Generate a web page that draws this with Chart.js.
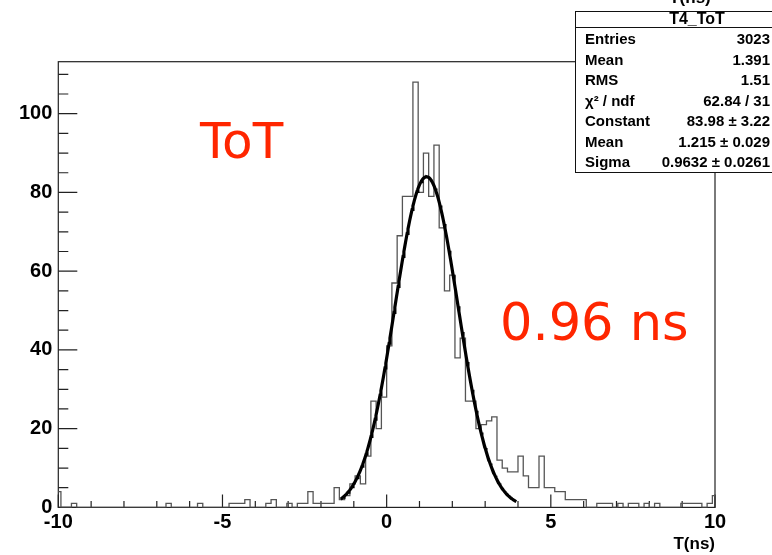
<!DOCTYPE html>
<html>
<head>
<meta charset="utf-8">
<script src="https://cdn.jsdelivr.net/npm/chart.js@4.4.0/dist/chart.umd.min.js"></script>
<style>
html,body{margin:0;padding:0;background:#fff;overflow:hidden}
#wrap{position:relative;width:772px;height:555px}
canvas{display:block}
</style>
</head>
<body>
<div id="wrap"><canvas id="c" width="772" height="555"></canvas></div>
<script>
// ---- data ----
const histName = "T4_ToT";
const binStart = -10.08;          // left edge of first (partly visible) bin
const binWidth = 0.16;            // ns
const counts = [
  4,0,0,1,0,0,0,0,0,0,  0,0,0,0,0,0,0,0,0,0,
  0,1,0,0,0,0,0,1,0,0,  0,0,0,1,1,1,2,0,0,0,
  1,2,0,0,1,0,1,1,4,1,  1,1,1,5,2,3,6,8,6,13,
  27,20,28,41,57,69,79,79,108,80,  90,79,92,71,55,59,38,43,27,27,
  20,21,22,23,12,10,9,9,13,8,  5,5,13,5,5,4,4,2,2,2,
  2,0,0,1,1,1,0,1,0,1,  1,0,1,0,1,0,0,0,0,1,  1,1,1,0,1,3
];
const fitConstant = 83.98;
const fitMean = 1.215;
const fitSigma = 0.9632;
const fitRange = [-1.4, 3.95];
const xTickLabels = [-10, -5, 0, 5, 10];
const yTickLabels = [0, 20, 40, 60, 80, 100];
const xTitle = "T(ns)";
const statsLabels = ["Entries", "Mean", "RMS", "\u03c7\u00b2 / ndf", "Constant", "Mean", "Sigma"];
const statsValues = ["3023", "1.391", "1.51", "62.84 / 31", "83.98 \u00b1 3.22", "1.215 \u00b1 0.029", "0.9632 \u00b1 0.0261"];
const noteTot = "ToT";
const noteSigma = "0.96 ns";

// ---- build datasets ----
const histPts = counts.map((c, i) => ({x: binStart + i * binWidth, y: c}));
histPts.push({x: binStart + counts.length * binWidth, y: counts[counts.length - 1]});

function gauss(t) {
  const z = (t - fitMean) / fitSigma;
  return fitConstant * Math.exp(-0.5 * z * z);
}
const fitPts = [];
for (let t = fitRange[0]; t <= fitRange[1] + 1e-9; t += 0.025) fitPts.push({x: t, y: gauss(t)});

const FONT = "'Liberation Sans', Arial, Helvetica, sans-serif";

const overlay = {
  id: 'overlay',
  beforeDatasetsDraw(chart) {
    const {ctx, chartArea: a, scales: {x, y}} = chart;
    ctx.save();
    ctx.strokeStyle = '#222';
    ctx.lineWidth = 1.2;
    ctx.strokeRect(a.left, a.top, a.right - a.left, a.bottom - a.top);
    ctx.beginPath();
    for (let v = -10; v <= 10; v++) {
      const px = x.getPixelForValue(v);
      const len = (v % 5 === 0) ? 13 : 6.5;
      ctx.moveTo(px, a.bottom); ctx.lineTo(px, a.bottom - len);
    }
    for (let v = 0; v <= 110; v += 5) {
      const py = y.getPixelForValue(v);
      const len = (v % 20 === 0) ? 19 : 10;
      ctx.moveTo(a.left, py); ctx.lineTo(a.left + len, py);
    }
    ctx.stroke();
    ctx.restore();
  },
  afterDraw(chart) {
    const {ctx} = chart;
    ctx.save();
    // red annotations
    ctx.fillStyle = '#ff2600';
    ctx.textAlign = 'left';
    ctx.textBaseline = 'alphabetic';
    ctx.font = "50px 'DejaVu Sans', sans-serif";
    ctx.fillText(noteTot, 200, 158);
    ctx.font = "51px 'DejaVu Sans', sans-serif";
    ctx.fillText(noteSigma, 500, 340);

    // partially visible text at top
    ctx.fillStyle = '#000';
    ctx.font = "bold 17px " + FONT;
    ctx.textAlign = 'center';
    ctx.fillText(xTitle, 690, 3);

    // stats box
    const bx = 575.5, by = 11.5, bw = 200, bh = 161;
    ctx.fillStyle = '#fff';
    ctx.fillRect(bx, by, bw, bh);
    ctx.strokeStyle = '#111';
    ctx.lineWidth = 1;
    ctx.strokeRect(bx, by, bw, bh);
    ctx.beginPath();
    ctx.moveTo(bx, 27.5); ctx.lineTo(bx + bw, 27.5);
    ctx.stroke();
    ctx.fillStyle = '#000';
    ctx.font = "bold 16px " + FONT;
    ctx.textAlign = 'center';
    ctx.textBaseline = 'middle';
    ctx.fillText(histName, 697, 19.5);
    ctx.font = "bold 15px " + FONT;
    for (let k = 0; k < statsLabels.length; k++) {
      const ry = 40 + 20.5 * k;
      ctx.textAlign = 'left';
      ctx.fillText(statsLabels[k], 585, ry);
      ctx.textAlign = 'right';
      ctx.fillText(statsValues[k], 770, ry);
    }
    ctx.restore();
  }
};

new Chart(document.getElementById('c'), {
  type: 'line',
  data: {
    datasets: [
      {
        label: 'fit',
        data: fitPts,
        borderColor: '#000',
        borderWidth: 3.2,
        pointRadius: 0,
        tension: 0,
        fill: false,
        order: 0
      },
      {
        label: histName,
        data: histPts,
        stepped: 'before',
        borderColor: '#555',
        borderWidth: 1.3,
        pointRadius: 0,
        fill: false,
        order: 1
      }
    ]
  },
  options: {
    responsive: false,
    animation: false,
    devicePixelRatio: 1,
    layout: {padding: {top: 61.7, right: 57, left: 0, bottom: 0}},
    plugins: {legend: {display: false}, tooltip: {enabled: false}},
    scales: {
      x: {
        type: 'linear',
        min: -10, max: 10,
        afterFit: s => { s.height = 47.6; },
        grid: {display: false, drawTicks: false},
        border: {display: false},
        ticks: {
          stepSize: 5,
          includeBounds: false,
          autoSkip: false,
          maxRotation: 0,
          padding: 3,
          color: '#000',
          font: {family: FONT, weight: 'bold', size: 20},
          callback: v => xTickLabels.includes(v) ? String(v) : ''
        },
        title: {
          display: true, text: xTitle, align: 'end', color: '#000',
          font: {family: FONT, weight: 'bold', size: 17},
          padding: {top: 0, bottom: 0}
        }
      },
      y: {
        type: 'linear',
        min: 0, max: 113.2,
        afterFit: s => { s.width = 58.3; },
        grid: {display: false, drawTicks: false},
        border: {display: false},
        ticks: {
          stepSize: 20,
          includeBounds: false,
          padding: 6,
          color: '#000',
          font: {family: FONT, weight: 'bold', size: 20},
          callback: v => yTickLabels.includes(v) ? String(v) : ''
        }
      }
    }
  },
  plugins: [overlay]
});
</script>
</body>
</html>
